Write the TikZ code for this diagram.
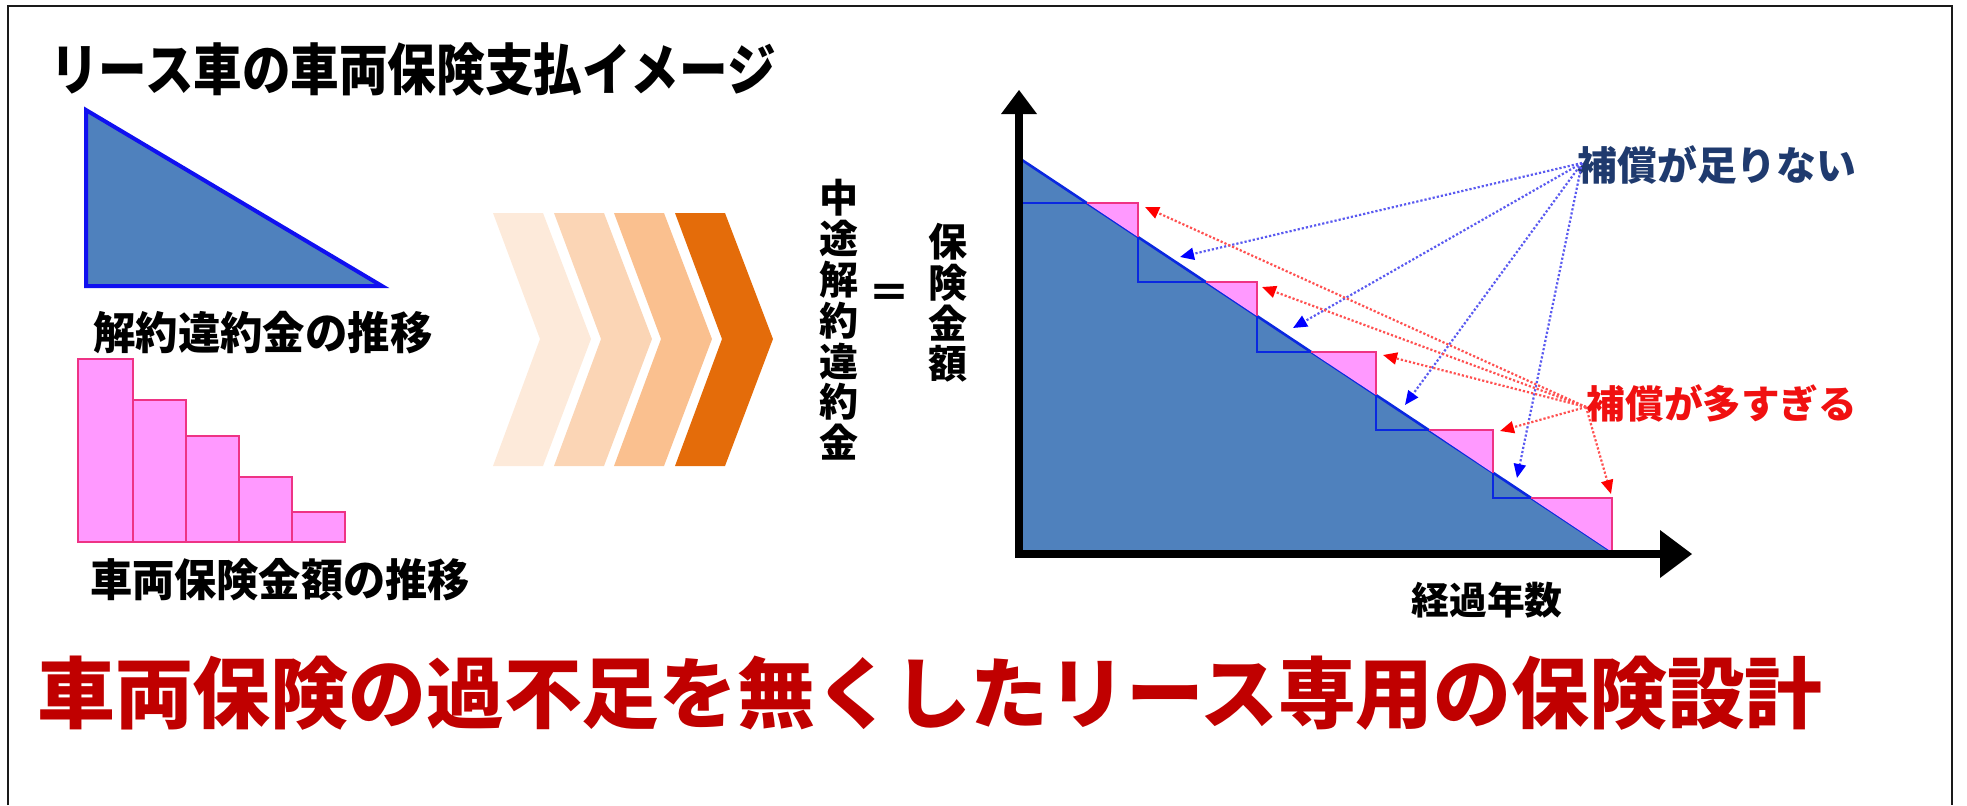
\documentclass[tikz,border=0pt]{standalone}
\usepackage{fontspec}
\usepackage{graphicx}
\setmainfont{Noto Sans CJK JP}
\usetikzlibrary{arrows.meta}
\definecolor{steel}{HTML}{4F81BD}
\definecolor{triblue}{HTML}{1010F0}
\definecolor{pinkfill}{HTML}{FF99FF}
\definecolor{pinkline}{HTML}{EE3385}
\definecolor{stepblue}{HTML}{0A28E0}
\definecolor{dotblue}{HTML}{5A5AF0}
\definecolor{dotred}{HTML}{FF5050}
\definecolor{headblue}{HTML}{0000FF}
\definecolor{headred}{HTML}{FF0000}
\definecolor{navytext}{HTML}{1F3A6E}
\definecolor{redtext}{HTML}{F01010}
\definecolor{darkred}{HTML}{C00000}
\definecolor{chA}{HTML}{FDEADA}
\definecolor{chB}{HTML}{FBD5B5}
\definecolor{chC}{HTML}{FAC08F}
\definecolor{chD}{HTML}{E46C0A}
\definecolor{framec}{HTML}{1A1A1A}
\tikzset{
  lbl/.style={inner sep=0pt, font=\bfseries},
  vtxt/.style={inner sep=0pt, align=center, font=\bfseries\fontsize{19.5pt}{20.4pt}\selectfont},
  bararr/.style={draw=dotblue, line width=1.1pt, dash pattern=on 1.1pt off 1pt, -{Triangle[length=7pt,width=6pt,fill=headblue,color=headblue]}},
  redarr/.style={draw=dotred, line width=1.1pt, dash pattern=on 1.1pt off 1pt, -{Triangle[length=7pt,width=6pt,fill=headred,color=headred]}},
  pinkbar/.style={fill=pinkfill, draw=pinkline, line width=1pt},
  stepb/.style={draw=stepblue, line width=1.3pt},
  stepp/.style={draw=pinkline, line width=1.3pt},
}
\begin{document}
\begin{tikzpicture}[x=0.5pt,y=-0.5pt]
\useasboundingbox (0,0) rectangle (1967,805);
% frame (open at the bottom)
\draw[framec, line width=1.2pt] (8,805) -- (8,6) -- (1952,6) -- (1952,805);

% title
\node[lbl, font=\bfseries\fontsize{24.3pt}{26pt}\selectfont] (title) at (413,69) {\scalebox{1}[1.15]{リース車の車両保険支払イメージ}};

% left triangle
\filldraw[fill=steel, draw=triblue, line width=2pt, line join=miter] (86,110) -- (86,286) -- (382,286) -- cycle;
\node[lbl, font=\bfseries\fontsize{21.2pt}{23pt}\selectfont] (lab1) at (263,333) {\scalebox{1}[1.05]{解約違約金の推移}};

% pink bars
\draw[pinkbar] (77.5,359) rectangle (132.6,542);
\draw[pinkbar] (132.6,400) rectangle (186,542);
\draw[pinkbar] (186,436) rectangle (239,542);
\draw[pinkbar] (239,477) rectangle (292,542);
\draw[pinkbar] (292,512) rectangle (345,542);
\node[lbl, font=\bfseries\fontsize{21.1pt}{23pt}\selectfont] (lab2) at (280,580) {\scalebox{1}[1.05]{車両保険金額の推移}};

% chevrons
\foreach \x/\c in {493/chA, 554/chB, 614/chC, 675/chD}{
  \fill[\c] (\x,213) -- (\x+50,213) -- (\x+98,339) -- (\x+50,466) -- (\x,466) -- (\x+47,339) -- cycle;
}

% vertical texts
\node[vtxt] (vleft) at (839,320) {中\\途\\解\\約\\違\\約\\金};
\node[lbl, font=\bfseries\fontsize{21pt}{22pt}\selectfont] (eq) at (889,296) {＝};
\node[vtxt] (vright) at (948,303) {保\\険\\金\\額};

% chart: blue area
\fill[steel] (1019,158) -- (1614,553) -- (1019,553) -- cycle;
\draw[stepblue, line width=1.3pt] (1019,158) -- (1614,553);
% pink over-compensation triangles
\fill[pinkfill] (1087,203) -- (1138,203) -- (1138,237) -- cycle;
\fill[pinkfill] (1206,282) -- (1257,282) -- (1257,316) -- cycle;
\fill[pinkfill] (1311,352) -- (1376,352) -- (1376,395) -- cycle;
\fill[pinkfill] (1429,430) -- (1493,430) -- (1493,473) -- cycle;
\fill[pinkfill] (1531,498) -- (1612,498) -- (1612,552) -- cycle;
% staircase outlines
\draw[stepp] (1087,203) -- (1138,203) -- (1138,237);
\draw[stepp] (1206,282) -- (1257,282) -- (1257,316);
\draw[stepp] (1311,352) -- (1376,352) -- (1376,395);
\draw[stepp] (1429,430) -- (1493,430) -- (1493,473);
\draw[stepp] (1531,498) -- (1612,498) -- (1612,552);
\draw[stepb] (1019,203) -- (1087,203);
\draw[stepb] (1138,237) -- (1138,282) -- (1206,282);
\draw[stepb] (1257,316) -- (1257,352) -- (1311,352);
\draw[stepb] (1376,395) -- (1376,430) -- (1429,430);
\draw[stepb] (1493,473) -- (1493,498) -- (1531,498);

% axes
\coordinate (orig) at (1019,554);
\coordinate (ytip) at (1019,90);
\coordinate (xtip) at (1692,554);
\draw[line width=4pt] (1019,558) -- (1019,110);
\fill (1001,114) -- (ytip) -- (1037,114) -- cycle;
\draw[line width=4pt] (1015,554) -- (1662,554);
\fill (1660,530) -- (xtip) -- (1660,578) -- cycle;

% labels
\node[lbl, text=navytext, font=\bfseries\fontsize{19.9pt}{21pt}\selectfont] (under) at (1717,165) {補償が足りない};
\node[lbl, text=redtext, font=\bfseries\fontsize{19.3pt}{21pt}\selectfont] (over) at (1722,403) {補償が多すぎる};
\node[lbl, font=\bfseries\fontsize{18.9pt}{20pt}\selectfont] (years) at (1487,600) {経過年数};

% arrow end points
\coordinate (bs) at (1582,163);
\coordinate (rs) at (1586,407);
\coordinate (b1) at (1180,257);
\coordinate (b2) at (1293,328);
\coordinate (b3) at (1405,405);
\coordinate (b4) at (1517,478);
\coordinate (r1) at (1145,207);
\coordinate (r2) at (1262,287);
\coordinate (r3) at (1383,355);
\coordinate (r4) at (1500,431);
\coordinate (r5) at (1611,494);
\foreach \t in {b1,b2,b3,b4}{\draw[bararr] (bs) -- (\t);}
\foreach \t in {r1,r2,r3,r4,r5}{\draw[redarr] (rs) -- (\t);}

% bottom slogan
\node[lbl, text=darkred, font=\bfseries\fontsize{38.9pt}{40pt}\selectfont] (slogan) at (930,693) {車両保険の過不足を無くしたリース専用の保険設計};
\end{tikzpicture}
\end{document}
